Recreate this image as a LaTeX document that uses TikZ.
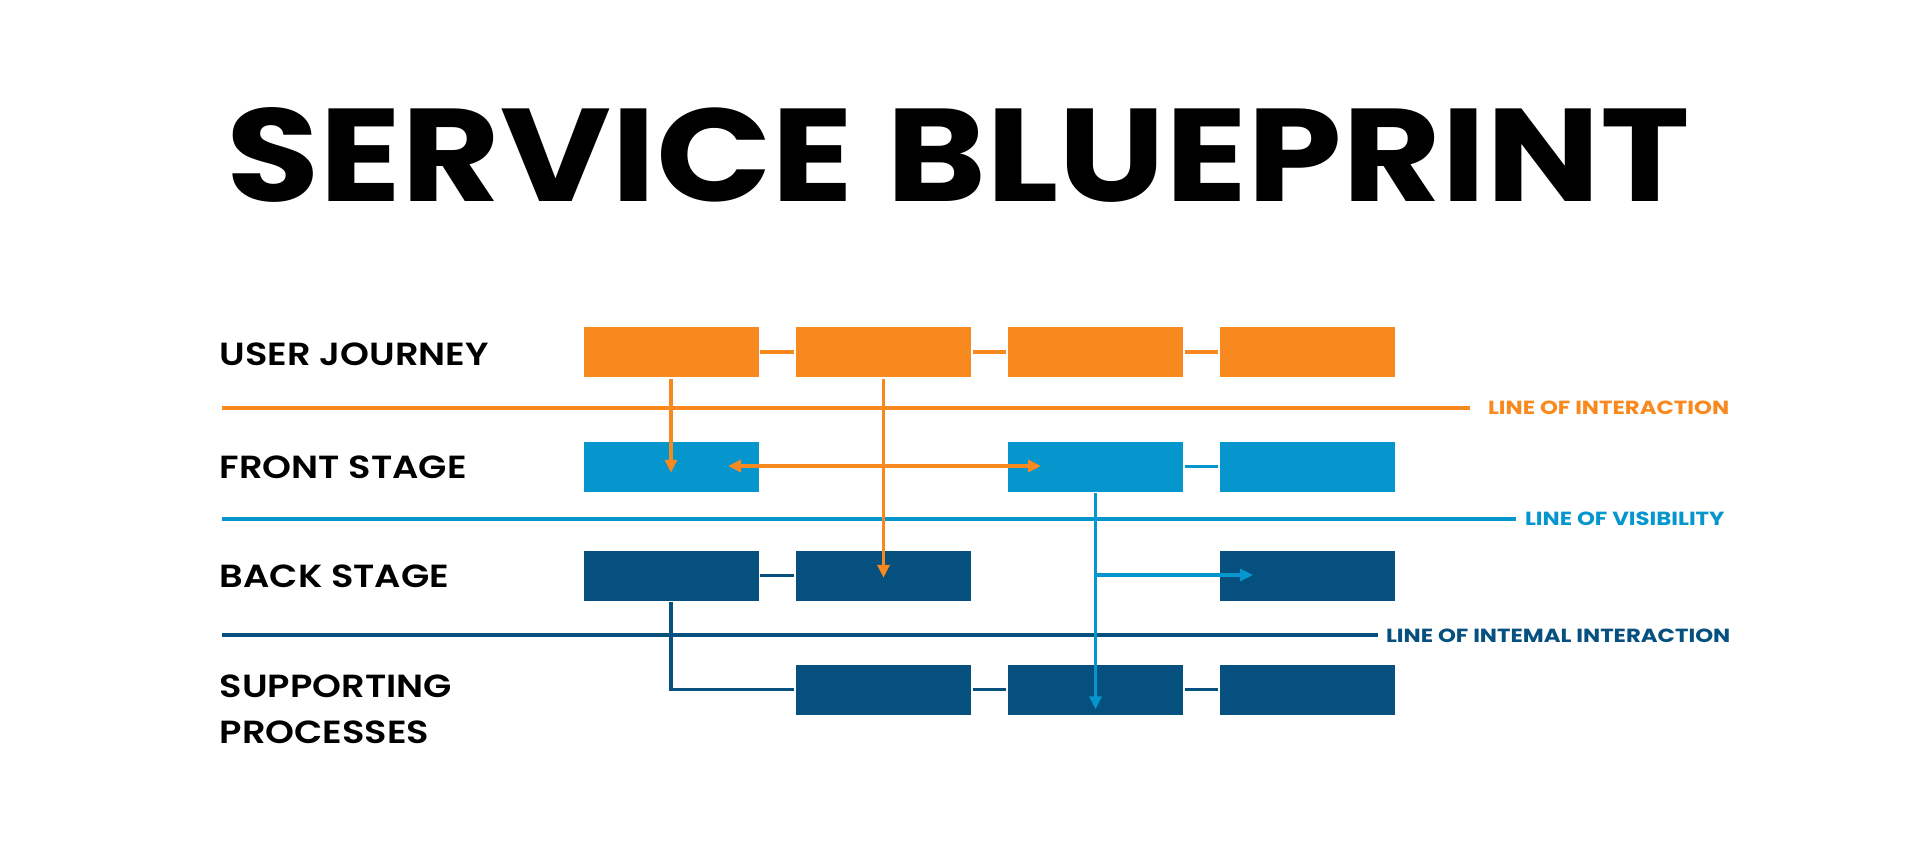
\documentclass[tikz,border=0pt]{standalone}
\usepackage{fontspec}
\setmainfont{Poppins}[BoldFont={Poppins SemiBold}]
\newfontfamily\heavyfont{Poppins Bold}
\usetikzlibrary{arrows.meta,positioning}
\definecolor{bporange}{HTML}{F7891E}
\definecolor{bplight}{HTML}{0596CE}
\definecolor{bpdark}{HTML}{05507F}

\begin{document}
\begin{tikzpicture}[
        x=1pt, y=-1pt,
        box/.style={minimum width=175pt, minimum height=50pt, inner sep=0pt},
        rowlabel/.style={anchor=west, align=left, xscale=1.15, font=\fontsize{32}{46}\selectfont\bfseries},
        linelabel/.style={anchor=west, xscale=1.2, font=\fontsize{19}{22}\selectfont\heavyfont},
        every path/.style={line width=3.5pt},
        tip/.style={-{Triangle[length=13pt,width=12pt]}},
        dtip/.style={{Triangle[length=13pt,width=12pt]}-{Triangle[length=13pt,width=12pt]}}
    ]
    \useasboundingbox (0,0) rectangle (1920,864);

    % Title
    \node[xscale=1.15] (title) at (958,155) {\fontsize{132}{140}\selectfont\heavyfont SERVICE BLUEPRINT};

    % Row labels
    \node[rowlabel] (uj) at (214,354) {USER JOURNEY};
    \node[rowlabel] (fs) at (214,467) {FRONT STAGE};
    \node[rowlabel] (bs) at (214,576) {BACK STAGE};
    \node[rowlabel] (sp) at (214,709) {SUPPORTING\\PROCESSES};

    % Separating lines
    \draw[bporange] (222,408) -- (1470,408);
    \node[linelabel, text=bporange] (loi) at (1482,408) {LINE OF INTERACTION};
    \draw[bplight] (222,519) -- (1516,519);
    \node[linelabel, text=bplight] (lov) at (1519,519) {LINE OF VISIBILITY};
    \draw[bpdark] (222,635) -- (1378,635);
    \node[linelabel, text=bpdark] (lii) at (1380,636) {LINE OF INTEMAL INTERACTION};

    % Boxes
    \foreach \c/\x in {1/671,2/883.5,3/1095.5,4/1307.5}{
        \node[box, fill=bporange] (u\c) at (\x,352) {};
    }
    \node[box, fill=bplight] (f1) at (671,466.5) {};
    \node[box, fill=bplight] (f3) at (1095.5,466.5) {};
    \node[box, fill=bplight] (f4) at (1307.5,466.5) {};
    \node[box, fill=bpdark] (b1) at (671,575.5) {};
    \node[box, fill=bpdark] (b2) at (883.5,575.5) {};
    \node[box, fill=bpdark] (b4) at (1307.5,575.5) {};
    \node[box, fill=bpdark] (s2) at (883.5,689.5) {};
    \node[box, fill=bpdark] (s3) at (1095.5,689.5) {};
    \node[box, fill=bpdark] (s4) at (1307.5,689.5) {};

    % Links
    \draw[bporange] (u1) -- (u2) (u2) -- (u3) (u3) -- (u4);
    \draw[bplight] (f3) -- (f4);
    \draw[bpdark] (b1) -- (b2) (s2) -- (s3) (s3) -- (s4);
    \draw[bpdark] (b1.south) -- (b1.south |- s2.west) -- (s2.west);

    % Arrows
    \coordinate (fsl) at (728,466);
    \coordinate (fsr) at (1041,466);
    \coordinate (bsr) at (1253,575);
    \draw[bporange, tip] (u1.south) -- ++(0,94);
    \draw[bporange, tip] (u2.south) -- ++(0,199);
    \draw[bporange, dtip] (fsl) -- (fsr);
    \draw[bplight, tip] (f3.south) -- ++(0,216);
    \draw[bplight, tip] (f3.south |- bsr) -- (bsr);
\end{tikzpicture}
\end{document}
